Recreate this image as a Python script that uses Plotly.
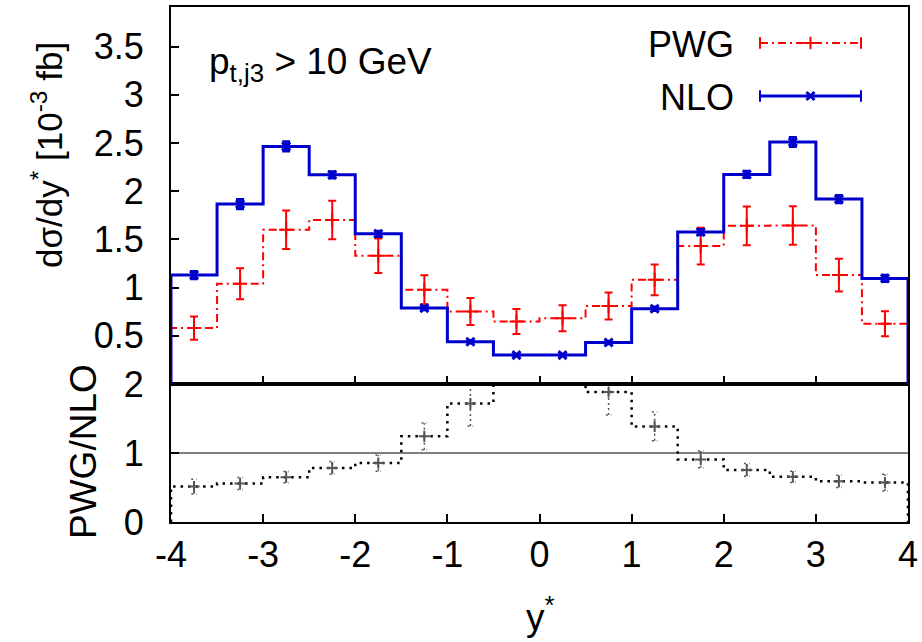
import plotly.graph_objects as go

# Bin edges in y* (16 bins of width 0.5)
bin_edges = [-4.0, -3.5, -3.0, -2.5, -2.0, -1.5, -1.0, -0.5, 0.0,
             0.5, 1.0, 1.5, 2.0, 2.5, 3.0, 3.5, 4.0]

# dsigma/dy* in units of 10^-3 fb
pwg_vals = [0.58, 1.04, 1.60, 1.70, 1.33, 0.977, 0.752, 0.648,
            0.683, 0.81, 1.08, 1.43, 1.64, 1.644, 1.13, 0.625]
pwg_errs = [0.12, 0.16, 0.20, 0.20, 0.18, 0.15, 0.14, 0.13,
            0.135, 0.14, 0.16, 0.19, 0.20, 0.20, 0.17, 0.13]
nlo_vals = [1.13, 1.866, 2.464, 2.17, 1.558, 0.787, 0.438, 0.30,
            0.30, 0.43, 0.78, 1.576, 2.173, 2.51, 1.918, 1.095]
nlo_errs = [0.04, 0.05, 0.05, 0.035, 0.03, 0.02, 0.015, 0.012,
            0.012, 0.015, 0.02, 0.03, 0.035, 0.05, 0.04, 0.035]

x_ticks = [-4, -3, -2, -1, 0, 1, 2, 3, 4]
x_tick_text = ["-4", "-3", "-2", "-1", "0", "1", "2", "3", "4"]
top_ticks = [0.5, 1, 1.5, 2, 2.5, 3, 3.5]
top_tick_text = ["0.5", "1", "1.5", "2", "2.5", "3", "3.5"]
ratio_ticks = [0, 1, 2]
ratio_tick_text = ["0", "1", "2"]

FONT = "Liberation Sans, Arial, sans-serif"
FS = 36
RED = "#ff0000"
BLUE = "#0000cc"
GREY = "#555555"

W, H = 922, 642
L, R, T, B = 171, 14, 7, 120
plot_h = H - T - B
split = 138 / plot_h           # lower panel height fraction
TOP_MAX = 3.91
RATIO_MAX = 2.0

centers = [(a + b) / 2 for a, b in zip(bin_edges[:-1], bin_edges[1:])]
ratio = [p / n for p, n in zip(pwg_vals, nlo_vals)]
ratio_err = [r * ((pe / p) ** 2 + (ne / n) ** 2) ** 0.5
             for r, p, pe, n, ne in zip(ratio, pwg_vals, pwg_errs, nlo_vals, nlo_errs)]


def step_path(vals):
    xs, ys = [bin_edges[0]], [0.0]
    for lo, hi, v in zip(bin_edges[:-1], bin_edges[1:], vals):
        xs += [lo, hi]
        ys += [v, v]
    xs.append(bin_edges[-1])
    ys.append(0.0)
    return xs, ys


def px_x(p):
    return (p - L) / (W - L - R)


def px_y(p):
    return (H - B - p) / plot_h


def data_x(p):
    return bin_edges[0] + (p - L) / (W - L - R) * (bin_edges[-1] - bin_edges[0])


def data_y_top(p):
    top_px = H - B - split * plot_h
    return (top_px - p) / (top_px - T) * TOP_MAX


fig = go.Figure()

# --- upper panel: distributions ---
xs, ys = step_path(pwg_vals)
fig.add_trace(go.Scatter(x=xs, y=ys, mode="lines", xaxis="x2", yaxis="y2",
                         line=dict(color=RED, width=2, dash="8px,4px,2px,4px"),
                         hoverinfo="skip", cliponaxis=False))
xs, ys = step_path(nlo_vals)
fig.add_trace(go.Scatter(x=xs, y=ys, mode="lines", xaxis="x2", yaxis="y2",
                         line=dict(color=BLUE, width=3),
                         hoverinfo="skip", cliponaxis=False))
fig.add_trace(go.Scatter(x=centers, y=pwg_vals, mode="markers", xaxis="x2", yaxis="y2",
                         marker=dict(symbol="cross-thin-open", size=10, color=RED,
                                     line=dict(color=RED, width=2)),
                         error_y=dict(type="data", array=pwg_errs, color=RED,
                                      thickness=2, width=4),
                         cliponaxis=False))
fig.add_trace(go.Scatter(x=centers, y=nlo_vals, mode="markers", xaxis="x2", yaxis="y2",
                         marker=dict(symbol="x-thin-open", size=8, color=BLUE,
                                     line=dict(color=BLUE, width=3)),
                         error_y=dict(type="data", array=nlo_errs, color=BLUE,
                                      thickness=2.5, width=4),
                         cliponaxis=False))

# --- lower panel: ratio ---
xs, ys = step_path(ratio)
fig.add_trace(go.Scatter(x=xs, y=ys, mode="lines", xaxis="x", yaxis="y",
                         line=dict(color="black", width=2.5, dash="2.5px,5px"),
                         hoverinfo="skip"))
ex, ey = [], []
for c, r, e in zip(centers, ratio, ratio_err):
    if r > RATIO_MAX:
        continue
    lo, hi = r - e, r + e
    ex += [c, c, None, c - 0.03, c + 0.03, None, c - 0.03, c + 0.03, None]
    ey += [lo, hi, None, lo, lo, None, hi, hi, None]
fig.add_trace(go.Scatter(x=ex, y=ey, mode="lines", xaxis="x", yaxis="y",
                         line=dict(color=GREY, width=1.5, dash="2px,3px"),
                         hoverinfo="skip"))
rc = [c for c, r in zip(centers, ratio) if r <= RATIO_MAX]
rv = [r for r in ratio if r <= RATIO_MAX]
fig.add_trace(go.Scatter(x=rc, y=rv, mode="markers", xaxis="x", yaxis="y",
                         marker=dict(symbol="cross-thin-open", size=8, color=GREY,
                                     line=dict(color=GREY, width=2))))

# --- key ---
key_x0, key_x1 = data_x(760), data_x(861)
key_xc = (key_x0 + key_x1) / 2
cap = 0.06
for ypx, col, dash, sym, lw in [(43, RED, "8px,4px,2px,4px", "cross-thin-open", 2),
                                (96, BLUE, "solid", "x-thin-open", 3)]:
    ky = data_y_top(ypx)
    fig.add_trace(go.Scatter(x=[key_x0, key_x1], y=[ky, ky], mode="lines",
                             xaxis="x2", yaxis="y2",
                             line=dict(color=col, width=lw, dash=dash), hoverinfo="skip"))
    fig.add_trace(go.Scatter(x=[key_x0, key_x0, None, key_x1, key_x1],
                             y=[ky - cap, ky + cap, None, ky - cap, ky + cap],
                             mode="lines", xaxis="x2", yaxis="y2",
                             line=dict(color=col, width=2), hoverinfo="skip"))
    fig.add_trace(go.Scatter(x=[key_xc], y=[ky], mode="markers", xaxis="x2", yaxis="y2",
                             marker=dict(symbol=sym, size=9 if sym.startswith("cross") else 8,
                                         color=col, line=dict(color=col, width=lw))))

axis_common = dict(showline=True, linecolor="black", linewidth=1.8, mirror=True,
                   ticks="inside", ticklen=8, tickwidth=1.5, tickcolor="black",
                   showgrid=False, zeroline=False, automargin=False,
                   layer="below traces",
                   tickfont=dict(family=FONT, size=FS, color="black"))

fig.update_layout(
    width=W, height=H,
    margin=dict(l=L, r=R, t=T, b=B, autoexpand=False),
    paper_bgcolor="white", plot_bgcolor="white",
    showlegend=False,
    font=dict(family=FONT, size=FS, color="black"),
    xaxis=dict(domain=[0, 1], anchor="y", range=[bin_edges[0], bin_edges[-1]],
               tickvals=x_ticks, ticktext=x_tick_text, ticklabelstandoff=0, **axis_common),
    yaxis=dict(domain=[0, split], anchor="x", range=[0, RATIO_MAX],
               tickvals=ratio_ticks, ticktext=ratio_tick_text,
               ticklabelstandoff=18, **axis_common),
    xaxis2=dict(domain=[0, 1], anchor="y2", matches="x", range=[bin_edges[0], bin_edges[-1]],
                tickvals=x_ticks, showticklabels=False, **axis_common),
    yaxis2=dict(domain=[split, 1], anchor="x2", range=[0, TOP_MAX],
                tickvals=top_ticks, ticktext=top_tick_text,
                ticklabelstandoff=18, **axis_common),
    shapes=[dict(type="line", xref="x", yref="y", x0=bin_edges[0], x1=bin_edges[-1],
                 y0=1, y1=1, line=dict(color="black", width=1.2))],
    annotations=[
        dict(text="dσ/dy<sup>*</sup> [10<sup>-3</sup> fb]", textangle=-90,
             xref="paper", yref="paper", x=px_x(47), y=px_y(155),
             xanchor="center", yanchor="middle", showarrow=False,
             font=dict(family=FONT, size=35)),
        dict(text="PWG/NLO", textangle=-90,
             xref="paper", yref="paper", x=px_x(83), y=px_y(452),
             xanchor="center", yanchor="middle", showarrow=False,
             font=dict(family=FONT, size=37)),
        dict(text="y<sup>*</sup>", xref="paper", yref="paper",
             x=px_x(540), y=px_y(614), xanchor="center", yanchor="middle",
             showarrow=False, font=dict(family=FONT, size=37)),
        dict(text="p<sub>t,j3</sub> > 10 GeV", xref="paper", yref="paper",
             x=px_x(207), y=px_y(64), xanchor="left", yanchor="middle",
             showarrow=False, font=dict(family=FONT, size=37)),
        dict(text="PWG", xref="paper", yref="paper", x=px_x(736), y=px_y(44),
             xanchor="right", yanchor="middle", showarrow=False,
             font=dict(family=FONT, size=FS)),
        dict(text="NLO", xref="paper", yref="paper", x=px_x(736), y=px_y(97),
             xanchor="right", yanchor="middle", showarrow=False,
             font=dict(family=FONT, size=FS)),
    ],
)

fig.write_html("out.html")
